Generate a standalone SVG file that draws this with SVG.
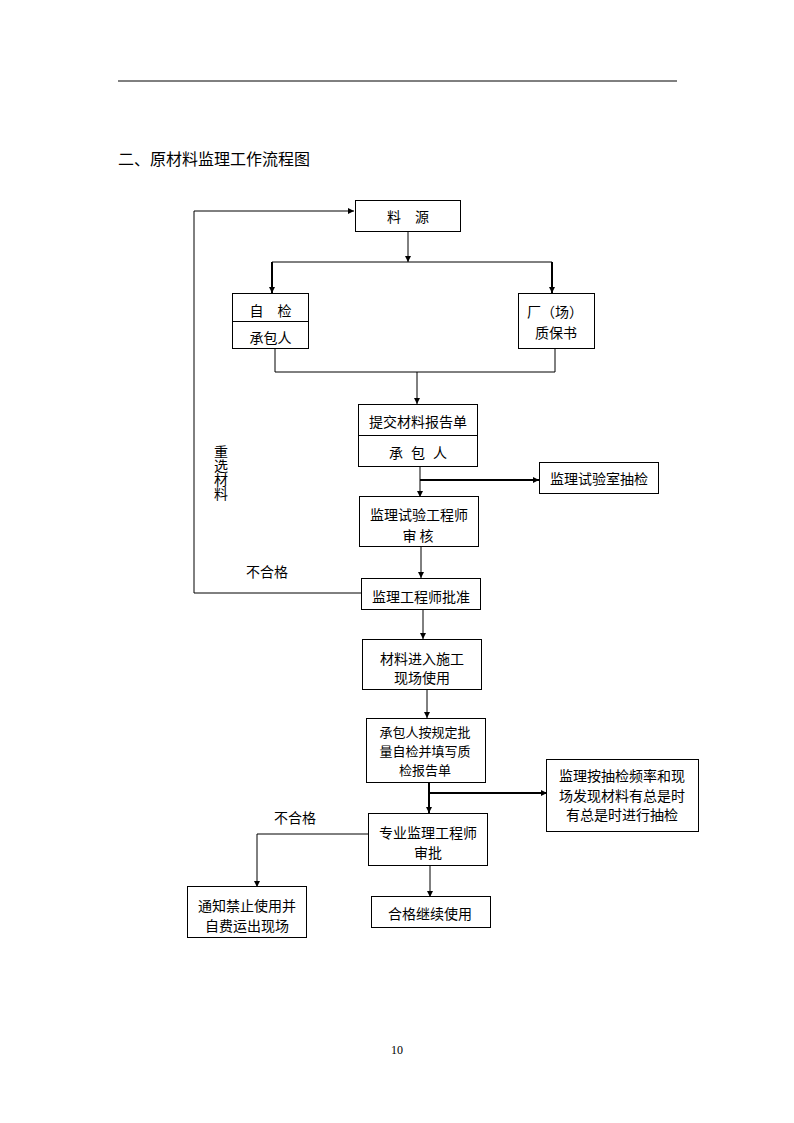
<svg xmlns="http://www.w3.org/2000/svg" width="794" height="1123" viewBox="0 0 794 1123">
<style>
.box{fill:#fff;stroke:#000;stroke-width:1}
.t{font-family:"Noto Sans CJK SC","Liberation Sans",sans-serif;font-size:14px;fill:#000;text-anchor:middle;dominant-baseline:central}
.c{fill:none;stroke:#000;stroke-width:1}
.thick{stroke-width:2}
</style>
<defs>
<marker id="arr" markerUnits="userSpaceOnUse" markerWidth="8" markerHeight="8" viewBox="0 0 8 8" refX="7" refY="4" orient="auto">
<path d="M1,1 L7,4 L1,7 Z" fill="#000"/>
</marker>
</defs>
<rect width="794" height="1123" fill="#fff"/>
<line x1="118" y1="81" x2="677" y2="81" stroke="#000" stroke-width="1"/>
<text x="118" y="158" font-family="Noto Sans CJK SC,sans-serif" font-size="16" dominant-baseline="central">二、原材料监理工作流程图</text>

<g id="connectors">
<polyline class="c" points="361,593 194,593 194,211 354,211" marker-end="url(#arr)"/>
<line class="c" x1="408" y1="231" x2="408" y2="262" marker-end="url(#arr)"/>
<line class="c" x1="272" y1="262" x2="552" y2="262"/>
<line class="c thick" x1="272" y1="262" x2="272" y2="293" marker-end="url(#arr)"/>
<line class="c thick" x1="552" y1="262" x2="552" y2="293" marker-end="url(#arr)"/>
<polyline class="c" points="275,348 275,372 555,372 555,348"/>
<line class="c" x1="417" y1="372" x2="417" y2="404" marker-end="url(#arr)"/>
<line class="c" x1="420" y1="466" x2="420" y2="497" marker-end="url(#arr)"/>
<line class="c thick" x1="420" y1="480" x2="539" y2="480" marker-end="url(#arr)"/>
<line class="c" x1="421" y1="546" x2="421" y2="578" marker-end="url(#arr)"/>
<line class="c" x1="423" y1="609" x2="423" y2="639" marker-end="url(#arr)"/>
<line class="c" x1="427" y1="689" x2="427" y2="718" marker-end="url(#arr)"/>
<line class="c thick" x1="429" y1="782" x2="429" y2="813" marker-end="url(#arr)"/>
<line class="c thick" x1="429" y1="793" x2="547" y2="793" marker-end="url(#arr)"/>
<line class="c" x1="430" y1="865" x2="430" y2="897" marker-end="url(#arr)"/>
<polyline class="c" points="369,834 257,834 257,887" marker-end="url(#arr)"/>
<text class="t" x="267" y="571">不合格</text>
<text class="t" x="295" y="817">不合格</text>
<text x="221" y="445" font-family="Noto Sans CJK SC,sans-serif" font-size="14" writing-mode="vertical-rl" style="writing-mode:vertical-rl">重选材料</text>
</g>

<g id="n-liaoyuan">
<rect class="box" x="355.5" y="200.5" width="105" height="31"/>
<text class="t" x="408" y="216">料　源</text>
</g>
<g id="n-zijian">
<rect class="box" x="232.5" y="293.5" width="76" height="55"/>
<line x1="232.5" y1="321.5" x2="308.5" y2="321.5" stroke="#000"/>
<text class="t" x="270.5" y="310">自　检</text>
<text class="t" x="270.5" y="337">承包人</text>
</g>
<g id="n-chang">
<rect class="box" x="518.5" y="293.5" width="76" height="55"/>
<text class="t" x="555" y="311">厂（场）</text>
<text class="t" x="556" y="332">质保书</text>
</g>
<g id="n-tijiao">
<rect class="box" x="358.5" y="404.5" width="119" height="62"/>
<line x1="358.5" y1="435.5" x2="477.5" y2="435.5" stroke="#000"/>
<text class="t" x="418" y="421">提交材料报告单</text>
<text class="t" y="452" style="text-anchor:start"><tspan x="389">承</tspan><tspan x="411">包</tspan><tspan x="433">人</tspan></text>
</g>
<g id="n-shiyanshi">
<rect class="box" x="539.5" y="462.5" width="119" height="31"/>
<text class="t" x="599" y="478">监理试验室抽检</text>
</g>
<g id="n-shiyangcs">
<rect class="box" x="359.5" y="496.5" width="119" height="50"/>
<text class="t" x="419" y="514">监理试验工程师</text>
<text class="t" x="418" y="535">审 核</text>
</g>
<g id="n-pizhun">
<rect class="box" x="361.5" y="578.5" width="119" height="31"/>
<text class="t" x="421" y="596">监理工程师批准</text>
</g>
<g id="n-jinru">
<rect class="box" x="362.5" y="639.5" width="119" height="50"/>
<text class="t" x="422" y="658">材料进入施工</text>
<text class="t" x="422" y="677">现场使用</text>
</g>
<g id="n-zijian2">
<rect class="box" x="366.5" y="718.5" width="119" height="64"/>
<text class="t" style="font-size:13px"><tspan x="425" y="731">承包人按规定批</tspan><tspan x="425" y="750">量自检并填写质</tspan><tspan x="425" y="769">检报告单</tspan></text>
</g>
<g id="n-choujian">
<rect class="box" x="546.5" y="759.5" width="152" height="72"/>
<text class="t" x="622" y="775">监理按抽检频率和现</text>
<text class="t" x="622" y="795">场发现材料有总是时</text>
<text class="t" x="622" y="814">有总是时进行抽检</text>
</g>
<g id="n-zhuanye">
<rect class="box" x="368.5" y="813.5" width="119" height="52"/>
<text class="t" x="428" y="832">专业监理工程师</text>
<text class="t" x="428" y="852">审批</text>
</g>
<g id="n-hege">
<rect class="box" x="371.5" y="896.5" width="119" height="31"/>
<text class="t" x="430" y="913">合格继续使用</text>
</g>
<g id="n-jinzhi">
<rect class="box" x="187.5" y="886.5" width="119" height="51"/>
<text class="t" x="247" y="905">通知禁止使用并</text>
<text class="t" x="247" y="925">自费运出现场</text>
</g>
<text x="397" y="1054" font-family="Liberation Serif,serif" font-size="12" text-anchor="middle">10</text>
</svg>
